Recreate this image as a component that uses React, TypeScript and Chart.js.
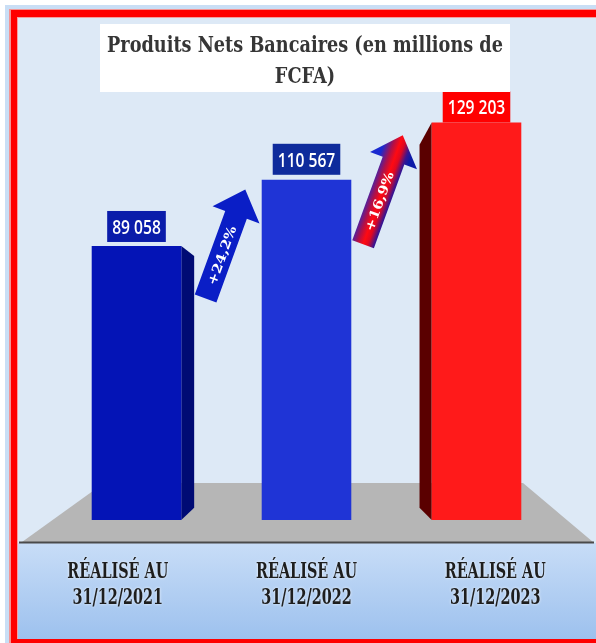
import React, { useEffect, useRef } from "react";
import { Chart, registerables } from "chart.js";

Chart.register(...registerables);

// ---- data ----
const TITLE_LINES = ["Produits Nets Bancaires (en millions de", "FCFA)"];
const CATEGORY_LINE1 = ["RÉALISÉ AU", "RÉALISÉ AU", "RÉALISÉ AU"];
const CATEGORY_LINE2 = ["31/12/2021", "31/12/2022", "31/12/2023"];
const VALUES = [89058, 110567, 129203];
const VALUE_LABELS = ["89 058", "110 567", "129 203"];
const GROWTH_LABELS = ["+24,2%", "+16,9%"];
const Y_MAX = 136500;

// ---- styles ----
const FRONT_COLORS = ["#0414b6", "#1f34d6", "#ff1a1a"];
const SIDE_COLORS = ["#000b74", "#1a2cc0", "#5a0000"];
const BOX_COLORS = ["#0a1caa", "#0e2b9c", "#ff0000"];
const BOX_GAPS = [4, 5, 0];
const ARROW_DY = [-2, 10];
const VP = { x: 310, y: 345 };
const DEPTH = 0.1;

function drawScaledText(
  ctx: CanvasRenderingContext2D,
  text: string,
  cx: number,
  baseline: number,
  font: string,
  sx: number,
  color: string
) {
  ctx.save();
  ctx.font = font;
  ctx.translate(cx, baseline);
  ctx.scale(sx, 1);
  ctx.textAlign = "center";
  ctx.textBaseline = "alphabetic";
  ctx.fillStyle = color;
  ctx.fillText(text, 0, 0);
  ctx.restore();
}

function scaleFor(ctx: CanvasRenderingContext2D, text: string, font: string, width: number) {
  ctx.save();
  ctx.font = font;
  const w = ctx.measureText(text).width;
  ctx.restore();
  return width / w;
}

function arrowPath(ctx: CanvasRenderingContext2D, len: number, shaftW: number, headL: number, headW: number) {
  const t = -len / 2;
  const h = len / 2;
  ctx.beginPath();
  ctx.moveTo(t, -shaftW / 2);
  ctx.lineTo(h - headL, -shaftW / 2);
  ctx.lineTo(h - headL, -headW / 2);
  ctx.lineTo(h, 0);
  ctx.lineTo(h - headL, headW / 2);
  ctx.lineTo(h - headL, shaftW / 2);
  ctx.lineTo(t, shaftW / 2);
  ctx.closePath();
}

const decorPlugin = {
  id: "decor",
  beforeDraw(chart: any) {
    const ctx: CanvasRenderingContext2D = chart.ctx;
    const W = chart.width;
    const H = chart.height;
    ctx.save();
    ctx.fillStyle = "#ffffff";
    ctx.fillRect(0, 0, W, H);
    ctx.fillStyle = "#c9def5";
    ctx.fillRect(5, 5, W - 5, H - 5);
    ctx.fillStyle = "#f29595";
    ctx.fillRect(9, 9, W - 9, H - 9);
    ctx.fillStyle = "#ff0000";
    ctx.fillRect(11, 10, W - 11, H - 10);
    ctx.fillStyle = "#f5a0a0";
    ctx.fillRect(17, 17, W - 17, 622);
    // upper background
    ctx.fillStyle = "#dde9f6";
    ctx.fillRect(18, 18, W - 18, 525);
    // lower band gradient
    const g = ctx.createLinearGradient(0, 543, 0, 639);
    g.addColorStop(0, "#c8ddf7");
    g.addColorStop(1, "#9dc1ee");
    ctx.fillStyle = g;
    ctx.fillRect(18, 543, W - 18, 96);
    ctx.restore();
  },
  beforeDatasetsDraw(chart: any) {
    const ctx: CanvasRenderingContext2D = chart.ctx;
    ctx.save();
    // floor
    ctx.fillStyle = "#b6b6b6";
    ctx.beginPath();
    ctx.moveTo(104, 483);
    ctx.lineTo(523, 483);
    ctx.lineTo(593, 542);
    ctx.lineTo(22, 542);
    ctx.closePath();
    ctx.fill();
    ctx.strokeStyle = "#4a4a4a";
    ctx.lineWidth = 2;
    ctx.beginPath();
    ctx.moveTo(19, 542.5);
    ctx.lineTo(594, 542.5);
    ctx.stroke();

    // side faces
    const meta = chart.getDatasetMeta(0);
    meta.data.forEach((bar: any, i: number) => {
      const left = bar.x - bar.width / 2;
      const right = bar.x + bar.width / 2;
      let ex: number | null = null;
      if (right < VP.x) ex = right;
      else if (left > VP.x) ex = left;
      if (ex === null) return;
      const top = bar.y;
      const bot = bar.base;
      const bx = ex + (VP.x - ex) * DEPTH;
      const bt = top + (VP.y - top) * DEPTH;
      const bb = bot + (VP.y - bot) * DEPTH * 0.7;
      ctx.fillStyle = SIDE_COLORS[i];
      ctx.beginPath();
      ctx.moveTo(ex, top);
      ctx.lineTo(bx, bt);
      ctx.lineTo(bx, bb);
      ctx.lineTo(ex, bot);
      ctx.closePath();
      ctx.fill();
    });
    ctx.restore();
  },
  afterDatasetsDraw(chart: any) {
    const ctx: CanvasRenderingContext2D = chart.ctx;
    const meta = chart.getDatasetMeta(0);
    const bars = meta.data;

    // value boxes
    const vFont = '600 20px "Open Sans"';
    bars.forEach((bar: any, i: number) => {
      const sx = 0.78;
      ctx.save();
      ctx.font = vFont;
      const tw = ctx.measureText(VALUE_LABELS[i]).width * sx;
      ctx.restore();
      const bw = tw + 10;
      const bh = 31;
      const bottom = bar.y - BOX_GAPS[i];
      ctx.fillStyle = BOX_COLORS[i];
      ctx.fillRect(bar.x - bw / 2, bottom - bh, bw, bh);
      drawScaledText(ctx, VALUE_LABELS[i], bar.x, bottom - bh / 2 + 7.5, vFont, sx, "#ffffff");
    });

    // arrows
    const visualRight = (bar: any) => {
      const r = bar.x + bar.width / 2;
      return r < VP.x ? r + (VP.x - r) * DEPTH : r;
    };
    const visualLeft = (bar: any) => {
      const l = bar.x - bar.width / 2;
      return l > VP.x ? l + (VP.x - l) * DEPTH : l;
    };
    GROWTH_LABELS.forEach((label, i) => {
      const a = bars[i];
      const b = bars[i + 1];
      const mx = (visualRight(a) + visualLeft(b)) / 2 - 2.5;
      const my = a.y + ARROW_DY[i];
      const ang = (-70 * Math.PI) / 180;
      const len = 116;
      ctx.save();
      ctx.translate(mx, my);
      ctx.rotate(ang);
      arrowPath(ctx, len, 23, 27, 50);
      if (i === 0) {
        ctx.fillStyle = "#0a1ec6";
      } else {
        const g = ctx.createLinearGradient(0, -15, 0, 15);
        g.addColorStop(0, "#1a2ad0");
        g.addColorStop(0.3, "#b01048");
        g.addColorStop(0.5, "#ff0a12");
        g.addColorStop(0.65, "#e00820");
        g.addColorStop(0.85, "#3a1490");
        g.addColorStop(1, "#0c1aa8");
        ctx.fillStyle = g;
      }
      ctx.fill();
      const tFont = 'bold 13px "DejaVu Serif"';
      const sx = scaleFor(ctx, label, tFont, 62);
      drawScaledText(ctx, label, -12, 5, tFont, sx, "#ffffff");
      ctx.restore();
    });

    // title box
    ctx.save();
    ctx.fillStyle = "#ffffff";
    ctx.fillRect(100, 24, 410, 68);
    ctx.restore();
    const titleFont = 'bold 23px "DejaVu Serif"';
    const tsx = scaleFor(ctx, TITLE_LINES[0], titleFont, 396);
    drawScaledText(ctx, TITLE_LINES[0], 305, 52, titleFont, tsx, "#363636");
    drawScaledText(ctx, TITLE_LINES[1], 305, 83, titleFont, tsx, "#363636");

    // category labels
    const cFont = 'bold 23px "DejaVu Serif"';
    const csx = scaleFor(ctx, CATEGORY_LINE1[0], cFont, 101);
    const ref = bars[1].x;
    bars.forEach((bar: any, i: number) => {
      const lx = ref + (bar.x - ref) * 1.11;
      ctx.save();
      ctx.shadowColor = "rgba(255,255,255,0.85)";
      ctx.shadowBlur = 3;
      drawScaledText(ctx, CATEGORY_LINE1[i], lx, 578, cFont, csx, "#1e1e1e");
      drawScaledText(ctx, CATEGORY_LINE2[i], lx, 604, cFont, csx, "#1e1e1e");
      ctx.restore();
    });
  },
};

export default function App() {
  const ref = useRef<HTMLCanvasElement>(null);
  useEffect(() => {
    if (!ref.current) return;
    const chart = new Chart(ref.current, {
      type: "bar",
      data: {
        labels: CATEGORY_LINE2,
        datasets: [
          {
            data: VALUES,
            backgroundColor: FRONT_COLORS,
            borderWidth: 0,
            barPercentage: 0.527,
            categoryPercentage: 1,
          },
        ],
      },
      options: {
        responsive: false,
        devicePixelRatio: 1,
        animation: false,
        layout: { padding: { left: 51.5, right: 34.5, top: 100, bottom: 123 } },
        scales: {
          x: { display: false, grid: { display: false } },
          y: { display: false, min: 0, max: Y_MAX, grid: { display: false } },
        },
        plugins: {
          legend: { display: false },
          tooltip: { enabled: false },
          title: { display: false },
        },
      },
      plugins: [decorPlugin],
    });
    return () => chart.destroy();
  }, []);
  return (
    <div style={{ position: "fixed", left: 0, top: 0, width: 596, height: 643 }}>
      <canvas ref={ref} width={596} height={643} style={{ display: "block", width: 596, height: 643 }} />
    </div>
  );
}
